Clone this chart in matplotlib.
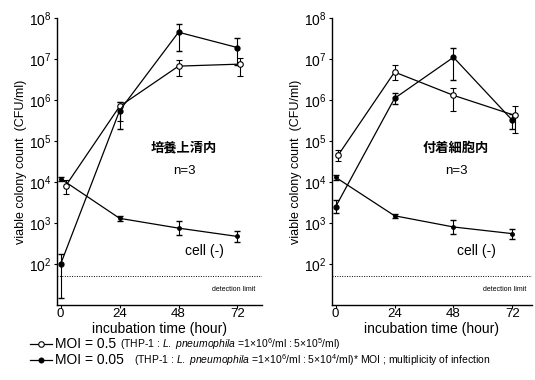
import matplotlib
matplotlib.use('Agg')
import matplotlib.pyplot as plt
from matplotlib.lines import Line2D
import numpy as np

plt.rcParams['font.family'] = ['Liberation Sans', 'Noto Sans CJK JP', 'DejaVu Sans']
plt.rcParams['mathtext.fontset'] = 'custom'
plt.rcParams['mathtext.rm'] = 'Liberation Sans'
plt.rcParams['mathtext.it'] = 'Liberation Sans:italic'

hours = [0, 24, 48, 72]

# culture supernatant (培養上清内)
sup_moi05 = [8e3, 7e5, 6.7e6, 7.5e6]
sup_moi05_lo = [5e3, 3e5, 3.8e6, 3.8e6]
sup_moi05_hi = [1.1e4, 9e5, 9.5e6, 1.05e7]
sup_moi005 = [1e2, 5.5e5, 4.5e7, 1.9e7]
sup_moi005_lo = [15, 2e5, 1.6e7, 7e6]
sup_moi005_hi = [1.8e2, 9e5, 7e7, 3.2e7]
sup_cell = [1.2e4, 1.3e3, 7.5e2, 4.7e2]
sup_cell_lo = [1.05e4, 1.15e3, 5e2, 3.5e2]
sup_cell_hi = [1.35e4, 1.45e3, 1.1e3, 6.5e2]

# adherent cells (付着細胞内)
adh_moi05 = [4.5e4, 4.8e6, 1.3e6, 4.2e5]
adh_moi05_lo = [3.2e4, 3e6, 5.5e5, 1.6e5]
adh_moi05_hi = [6e4, 7e6, 2e6, 7e5]
adh_moi005 = [2.5e3, 1.1e6, 1.1e7, 3.2e5]
adh_moi005_lo = [1.8e3, 8e5, 3e6, 2e5]
adh_moi005_hi = [3.6e3, 1.5e6, 1.9e7, 4.5e5]
adh_cell = [1.3e4, 1.5e3, 8e2, 5.5e2]
adh_cell_lo = [1.15e4, 1.3e3, 5.5e2, 4e2]
adh_cell_hi = [1.45e4, 1.7e3, 1.2e3, 7e2]

detection_limit = 50


def err(v, lo, hi):
    v = np.array(v)
    return [v - np.array(lo), np.array(hi) - v]


def panel(ax, title, moi05, e05, moi005, e005, cell, ecell, xmax, x05, xcell):
    ax.errorbar(x05, moi05, yerr=e05, color='black', lw=0.9, marker='o',
                ms=4, mfc='white', mec='black', mew=0.8, capsize=2, elinewidth=0.8)
    ax.errorbar(hours, moi005, yerr=e005, color='black', lw=0.9, marker='o',
                ms=3.5, mfc='black', capsize=2, elinewidth=0.8)
    ax.errorbar(xcell, cell, yerr=ecell, color='black', lw=0.9, marker='o',
                ms=2.5, mfc='black', capsize=2, elinewidth=0.8)
    ax.axhline(detection_limit, color='black', lw=0.7, ls=(0, (1, 1.5)))
    ax.text(0.97, 0.05, 'detection limit', transform=ax.transAxes,
            fontsize=5, ha='right')
    ax.text(0.62, 0.535, title, transform=ax.transAxes, fontsize=9.5,
            fontweight='bold', ha='center', family=['Noto Sans CJK JP'])
    ax.text(0.62, 0.455, 'n=3', transform=ax.transAxes, fontsize=9.5, ha='center')
    ax.text(0.72, 0.175, 'cell (-)', transform=ax.transAxes, fontsize=10, ha='center')

    ax.set_yscale('log')
    ax.set_ylim(10, 1e8)
    ax.set_xlim(-1.5, xmax)
    ax.set_yticks([1e2, 1e3, 1e4, 1e5, 1e6, 1e7, 1e8])
    ax.set_yticklabels([r'$10^{%d}$' % k for k in range(2, 9)])
    ax.yaxis.set_minor_locator(matplotlib.ticker.NullLocator())
    ax.set_xticks(hours)
    ax.tick_params(labelsize=10, length=2.5, width=0.8, pad=1.5)
    ax.tick_params(axis='x', labelsize=9.5, length=2, pad=0.5)
    ax.spines['top'].set_visible(False)
    ax.spines['right'].set_visible(False)
    ax.spines['left'].set_linewidth(1.0)
    ax.spines['bottom'].set_linewidth(1.0)
    ax.set_xlabel('incubation time (hour)', fontsize=10, va='top')
    ax.xaxis.set_label_coords(0.5, -0.059)
    ax.set_ylabel('viable colony count  (CFU/ml)', fontsize=9, labelpad=1)


fig = plt.figure(figsize=(5.35, 3.8), dpi=100)
ax1 = fig.add_axes([57 / 535, 1 - 305 / 380, 205 / 535, 287 / 380])
ax2 = fig.add_axes([332 / 535, 1 - 305 / 380, 200 / 535, 287 / 380])

panel(ax1, '培養上清内',
      sup_moi05, err(sup_moi05, sup_moi05_lo, sup_moi05_hi),
      sup_moi005, err(sup_moi005, sup_moi005_lo, sup_moi005_hi),
      sup_cell, err(sup_cell, sup_cell_lo, sup_cell_hi),
      82, [2, 24, 48, 73], hours)
panel(ax2, '付着細胞内',
      adh_moi05, err(adh_moi05, adh_moi05_lo, adh_moi05_hi),
      adh_moi005, err(adh_moi005, adh_moi005_lo, adh_moi005_hi),
      adh_cell, err(adh_cell, adh_cell_lo, adh_cell_hi),
      80, [1, 24, 48, 73], hours)

# legend below the panels
y1 = 1 - 344 / 380
y2 = 1 - 360 / 380
for yy, face, size in [(y1, 'white', 4), (y2, 'black', 3.5)]:
    fig.add_artist(Line2D([30 / 535, 52 / 535], [yy, yy], color='black', lw=0.9,
                          transform=fig.transFigure))
    fig.add_artist(Line2D([41 / 535], [yy], color='black', marker='o', ms=size,
                          mfc=face, mew=0.8, transform=fig.transFigure))
fig.text(55 / 535, y1, 'MOI = 0.5', fontsize=10, va='center')
fig.text(120 / 535, y1,
         r'(THP-1 : $\it{L.\ pneumophila}$ =1$\times$10$^6$/ml : 5$\times$10$^5$/ml)',
         fontsize=7.5, va='center')
fig.text(55 / 535, y2, 'MOI = 0.05', fontsize=10, va='center')
fig.text(134 / 535, y2,
         r'(THP-1 : $\it{L.\ pneumophila}$ =1$\times$10$^6$/ml : 5$\times$10$^4$/ml)* MOI ; multiplicity of infection',
         fontsize=7.5, va='center')

fig.savefig('out.png', dpi=100)
